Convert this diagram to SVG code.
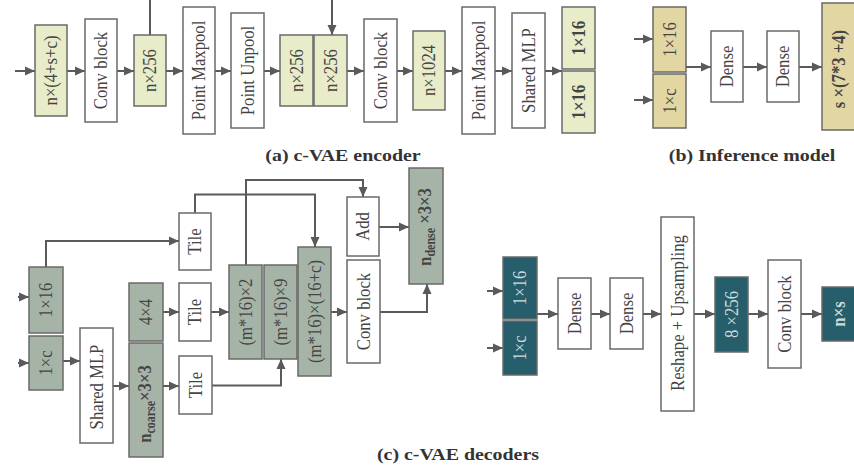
<svg xmlns="http://www.w3.org/2000/svg" width="854" height="474" viewBox="0 0 854 474">
<defs>
<marker id="ah" markerUnits="userSpaceOnUse" markerWidth="10" markerHeight="10" refX="10" refY="5" orient="auto">
<path d="M0,0.5 L10,5 L0,9.5 z" fill="#5a5a5a"/>
</marker>
<style>
.bx{stroke:#6a6a6a;stroke-width:1.5}
.w{fill:#ffffff}
.enc{fill:#e8ecc9}
.inf{fill:#e2d6a3}
.dec{fill:#a6b4a8}
.teal{fill:#265f6b}
.t{font-family:"Liberation Serif","Times New Roman",serif;font-size:16.7px;fill:#444;text-anchor:middle;dominant-baseline:central}
.b{font-weight:bold}
.lt{fill:#cfdcdd}
.cap{font-family:"Liberation Serif","Times New Roman",serif;font-size:17px;font-weight:bold;fill:#333;text-anchor:middle}
.c{fill:none;stroke:#5a5a5a;stroke-width:2;marker-end:url(#ah)}
</style>
</defs>
<rect width="854" height="474" fill="#fff"/>

<g id="connectors">
<path class="c" d="M15,71 H35"/>
<path class="c" d="M67,71 H85"/>
<path class="c" d="M117,71 H134"/>
<path class="c" d="M166,71 H183"/>
<path class="c" d="M215,71 H231"/>
<path class="c" d="M264,71 H280"/>
<path class="c" d="M150,35 V-5 H332 V35"/>
<path class="c" d="M347,71 H364"/>
<path class="c" d="M397,71 H413"/>
<path class="c" d="M445,71 H462"/>
<path class="c" d="M495,71 H512"/>
<path class="c" d="M545,71 H562"/>

<path class="c" d="M634,39 H653"/>
<path class="c" d="M634,100 H653"/>
<path class="c" d="M686,67 H711"/>
<path class="c" d="M743,67 H767"/>
<path class="c" d="M799,67 H822"/>

<path class="c" d="M18,297 H29"/>
<path class="c" d="M18,363 H29"/>
<path class="c" d="M46,267 V241 H179"/>
<path class="c" d="M195,213 V194.5 H315 V247"/>
<path class="c" d="M63,361 H80"/>
<path class="c" d="M113,386 H129"/>
<path class="c" d="M163,312 H179"/>
<path class="c" d="M211,312 H229"/>
<path class="c" d="M163,386 H179"/>
<path class="c" d="M212,385.5 H281 V359"/>
<path class="c" d="M246,265 V180 H363 V197"/>
<path class="c" d="M331,312 H347"/>
<path class="c" d="M379,227 H409"/>
<path class="c" d="M380,312 H427 V284"/>

<path class="c" d="M487,291 H503"/>
<path class="c" d="M487,348 H503"/>
<path class="c" d="M537,314 H558"/>
<path class="c" d="M591,314 H610"/>
<path class="c" d="M643,314 H661"/>
<path class="c" d="M694,314 H715"/>
<path class="c" d="M748,314 H768"/>
<path class="c" d="M801,314 H822"/>
</g>

<!-- (a) encoder -->
<g id="e1"><rect class="bx enc" x="35" y="25" width="32" height="91"/><text class="t" transform="translate(51,70.5) scale(1.17,1) rotate(-90)">n×(4+s+c)</text></g>
<g id="e2"><rect class="bx w" x="85" y="19" width="32" height="103"/><text class="t" transform="translate(101,70.5) scale(1.17,1) rotate(-90)">Conv block</text></g>
<g id="e3"><rect class="bx enc" x="134" y="35" width="32" height="71"/><text class="t" transform="translate(150,70.5) scale(1.17,1) rotate(-90)">n×256</text></g>
<g id="e4"><rect class="bx w" x="183" y="7" width="32" height="127"/><text class="t" transform="translate(199,70.5) scale(1.17,1) rotate(-90)">Point Maxpool</text></g>
<g id="e5"><rect class="bx w" x="231" y="13" width="33" height="115"/><text class="t" transform="translate(247.5,70.5) scale(1.17,1) rotate(-90)">Point Unpool</text></g>
<g id="e6"><rect class="bx enc" x="280" y="35" width="33" height="71"/><text class="t" transform="translate(296.5,70.5) scale(1.17,1) rotate(-90)">n×256</text></g>
<g id="e7"><rect class="bx enc" x="314" y="35" width="33" height="71"/><text class="t" transform="translate(330.5,70.5) scale(1.17,1) rotate(-90)">n×256</text></g>
<g id="e8"><rect class="bx w" x="364" y="19" width="33" height="103"/><text class="t" transform="translate(380.5,70.5) scale(1.17,1) rotate(-90)">Conv block</text></g>
<g id="e9"><rect class="bx enc" x="413" y="31" width="32" height="79"/><text class="t" transform="translate(429,70.5) scale(1.17,1) rotate(-90)">n×1024</text></g>
<g id="e10"><rect class="bx w" x="462" y="7" width="33" height="127"/><text class="t" transform="translate(478.5,70.5) scale(1.17,1) rotate(-90)">Point Maxpool</text></g>
<g id="e11"><rect class="bx w" x="512" y="13" width="33" height="115"/><text class="t" transform="translate(528.5,70.5) scale(1.17,1) rotate(-90)">Shared MLP</text></g>
<g id="e12"><rect class="bx enc" x="562" y="7" width="33" height="62"/><text class="t b" transform="translate(578.5,38) scale(1.17,1) rotate(-90)">1×16</text></g>
<g id="e13"><rect class="bx enc" x="562" y="71" width="33" height="62"/><text class="t b" transform="translate(578.5,102) scale(1.17,1) rotate(-90)">1×16</text></g>
<text class="cap" transform="translate(343,161) scale(1.17,1)">(a) c-VAE encoder</text>

<!-- (b) inference -->
<g id="i1"><rect class="bx inf" x="653" y="7" width="33" height="65"/><text class="t" transform="translate(669.5,39.5) scale(1.17,1) rotate(-90)">1×16</text></g>
<g id="i2"><rect class="bx inf" x="653" y="74" width="33" height="54"/><text class="t" transform="translate(669.5,101) scale(1.17,1) rotate(-90)">1×c</text></g>
<g id="i3"><rect class="bx w" x="711" y="31" width="32" height="71"/><text class="t" transform="translate(727,66.5) scale(1.17,1) rotate(-90)">Dense</text></g>
<g id="i4"><rect class="bx w" x="767" y="31" width="32" height="71"/><text class="t" transform="translate(783,66.5) scale(1.17,1) rotate(-90)">Dense</text></g>
<g id="i5"><rect class="bx inf" x="822" y="3" width="34" height="127"/><text class="t b" transform="translate(839,69) scale(1.17,1) rotate(-90)">s ×(7*3 +4)</text></g>
<text class="cap" transform="translate(752,161) scale(1.17,1)">(b) Inference model</text>

<!-- (c) decoders -->
<g id="d1"><rect class="bx dec" x="29" y="267" width="34" height="66"/><text class="t" transform="translate(46,300) scale(1.17,1) rotate(-90)">1×16</text></g>
<g id="d2"><rect class="bx dec" x="29" y="336" width="34" height="54"/><text class="t" transform="translate(46,363) scale(1.17,1) rotate(-90)">1×c</text></g>
<g id="d3"><rect class="bx w" x="80" y="328" width="33" height="115"/><text class="t" transform="translate(96.5,387) scale(1.17,1) rotate(-90)">Shared MLP</text></g>
<g id="d4"><rect class="bx dec" x="129" y="283" width="34" height="58"/><text class="t" transform="translate(146,312) scale(1.17,1) rotate(-90)">4×4</text></g>
<g id="d5"><rect class="bx dec" x="129" y="343" width="34" height="114"/><text class="t b" transform="translate(145,404) scale(1.17,1) rotate(-90)">n<tspan font-size="12" dy="4">coarse</tspan><tspan dy="-4">×3×3</tspan></text></g>
<g id="d6"><rect class="bx w" x="179" y="213" width="32" height="57"/><text class="t" transform="translate(195,241.5) scale(1.17,1) rotate(-90)">Tile</text></g>
<g id="d7"><rect class="bx w" x="179" y="283" width="32" height="58"/><text class="t" transform="translate(195,312) scale(1.17,1) rotate(-90)">Tile</text></g>
<g id="d8"><rect class="bx w" x="179" y="356" width="33" height="58"/><text class="t" transform="translate(195.5,385) scale(1.17,1) rotate(-90)">Tile</text></g>
<g id="d9"><rect class="bx dec" x="229" y="265" width="33" height="94"/><text class="t" transform="translate(245.5,312) scale(1.17,1) rotate(-90)">(m*16)×2</text></g>
<g id="d10"><rect class="bx dec" x="264" y="265" width="33" height="94"/><text class="t" transform="translate(280.5,312) scale(1.17,1) rotate(-90)">(m*16)×9</text></g>
<g id="d11"><rect class="bx dec" x="298" y="247" width="33" height="129"/><text class="t" transform="translate(314.5,311.5) scale(1.17,1) rotate(-90)">(m*16)×(16+c)</text></g>
<g id="d12"><rect class="bx w" x="347" y="197" width="32" height="59"/><text class="t" transform="translate(363,226.5) scale(1.17,1) rotate(-90)">Add</text></g>
<g id="d13"><rect class="bx w" x="347" y="260" width="33" height="103"/><text class="t" transform="translate(363.5,311.5) scale(1.17,1) rotate(-90)">Conv block</text></g>
<g id="d14"><rect class="bx dec" x="409" y="168" width="34" height="116"/><text class="t b" transform="translate(425,227) scale(1.17,1) rotate(-90)">n<tspan font-size="12" dy="4">dense</tspan><tspan dy="-4"> ×3×3</tspan></text></g>

<g id="r1"><rect class="bx teal" x="503" y="257" width="34" height="62"/><text class="t lt" transform="translate(520,288) scale(1.17,1) rotate(-90)">1×16</text></g>
<g id="r2"><rect class="bx teal" x="503" y="321" width="34" height="54"/><text class="t lt" transform="translate(520,348) scale(1.17,1) rotate(-90)">1×c</text></g>
<g id="r3"><rect class="bx w" x="558" y="278" width="33" height="71"/><text class="t" transform="translate(574.5,313.5) scale(1.17,1) rotate(-90)">Dense</text></g>
<g id="r4"><rect class="bx w" x="610" y="278" width="33" height="71"/><text class="t" transform="translate(626.5,313.5) scale(1.17,1) rotate(-90)">Dense</text></g>
<g id="r5"><rect class="bx w" x="661" y="217" width="33" height="194"/><text class="t" transform="translate(677.5,313) scale(1.17,1) rotate(-90)">Reshape + Upsampling</text></g>
<g id="r6"><rect class="bx teal" x="715" y="277" width="33" height="75"/><text class="t lt" transform="translate(731.5,314.5) scale(1.17,1) rotate(-90)">8 ×256</text></g>
<g id="r7"><rect class="bx w" x="768" y="260" width="33" height="108"/><text class="t" transform="translate(784.5,314) scale(1.17,1) rotate(-90)">Conv block</text></g>
<g id="r8"><rect class="bx teal" x="822" y="287" width="34" height="54"/><text class="t b lt" transform="translate(839,314) scale(1.17,1) rotate(-90)">n×s</text></g>
<text class="cap" transform="translate(458,460) scale(1.17,1)">(c) c-VAE decoders</text>
</svg>
